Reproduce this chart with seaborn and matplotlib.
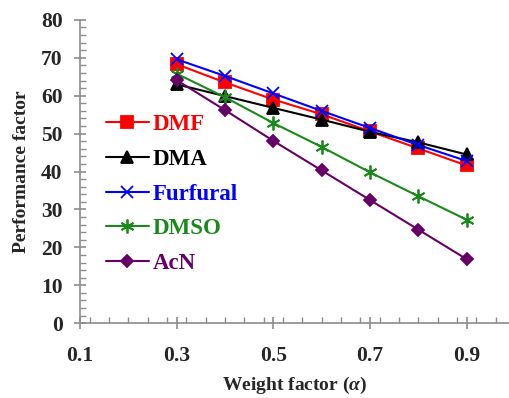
import matplotlib
matplotlib.use("Agg")
import matplotlib.pyplot as plt
import seaborn as sns
import pandas as pd
from matplotlib.ticker import MultipleLocator

alpha = [0.3, 0.4, 0.5, 0.6, 0.7, 0.8, 0.9]
dmf = [68.3, 63.5, 59.0, 55.1, 50.6, 46.1, 41.6]
dma = [63.0, 59.9, 56.8, 53.7, 50.5, 47.7, 44.5]
furfural = [69.6, 65.2, 60.6, 56.0, 51.5, 47.0, 42.8]
dmso = [65.8, 59.6, 52.8, 46.5, 39.8, 33.5, 27.3]
acn = [64.1, 56.2, 48.1, 40.3, 32.5, 24.7, 16.9]

names = ["DMF", "DMA", "Furfural", "DMSO", "AcN"]
series = [dmf, dma, furfural, dmso, acn]
colors = ["#ff0000", "#000000", "#0000ff", "#1a8a1a", "#660066"]
markers = ["s", "^", "x", (6, 2, 0), "D"]
msizes = [8, 8, 9, 10, 6]

rows = []
for n, s in zip(names, series):
    for a, v in zip(alpha, s):
        rows.append({"alpha": a, "value": v, "solvent": n})
df = pd.DataFrame(rows)

sns.set_style("white")
plt.rcParams["font.family"] = ["Liberation Serif", "DejaVu Serif"]
plt.rcParams["font.weight"] = "bold"
plt.rcParams["mathtext.fontset"] = "custom"
plt.rcParams["mathtext.it"] = "Liberation Serif:italic:bold"
plt.rcParams["mathtext.rm"] = "Liberation Serif:bold"
plt.rcParams["mathtext.bf"] = "Liberation Serif:bold"

fig = plt.figure(figsize=(5.10, 3.98), dpi=100)
ax = fig.add_axes([0.157, 0.188, 0.843, 0.762])

for n, c, m, ms in zip(names, colors, markers, msizes):
    sub = df[df["solvent"] == n]
    sns.lineplot(data=sub, x="alpha", y="value", ax=ax, color=c, marker=m,
                 markersize=ms, markeredgecolor=c, markeredgewidth=1.3,
                 linewidth=1.5, label=n)

ax.set_xlim(0.1, 0.99)
ax.set_ylim(0, 80)
ax.xaxis.set_minor_locator(MultipleLocator(0.04))
ax.yaxis.set_major_locator(MultipleLocator(10))
ax.yaxis.set_minor_locator(MultipleLocator(2))
ax.set_xticks([0.1, 0.3, 0.5, 0.7, 0.9])
ax.set_xticklabels(["0.1", "0.3", "0.5", "0.7", "0.9"])

for sp in ["top", "right"]:
    ax.spines[sp].set_visible(False)
for sp in ["left", "bottom"]:
    ax.spines[sp].set_color("#8c8c8c")
    ax.spines[sp].set_linewidth(1.2)

ax.tick_params(which="major", direction="inout", length=9, width=1.2,
               color="#8c8c8c", labelsize=15.5, pad=8)
ax.tick_params(axis="x", which="major", pad=12)
ax.tick_params(which="minor", direction="in", length=4, width=1.0,
               color="#8c8c8c")
ax.tick_params(bottom=True, left=True, which="both")
for lab in ax.get_xticklabels() + ax.get_yticklabels():
    lab.set_fontweight("bold")

ax.set_xlabel(r"Weight factor ($\alpha$)", fontsize=14, fontweight="bold", labelpad=6)
ax.set_ylabel("Performance factor", fontsize=14, fontweight="bold", labelpad=8)

leg = ax.legend(loc="upper left", bbox_to_anchor=(0.038, 0.72), frameon=False,
                fontsize=16.5, handlelength=1.9, handletextpad=0.15,
                labelspacing=0.6, borderaxespad=0)
for t, c in zip(leg.get_texts(), colors):
    t.set_color(c)
    t.set_fontweight("bold")

fig.savefig("out.png", dpi=100)
